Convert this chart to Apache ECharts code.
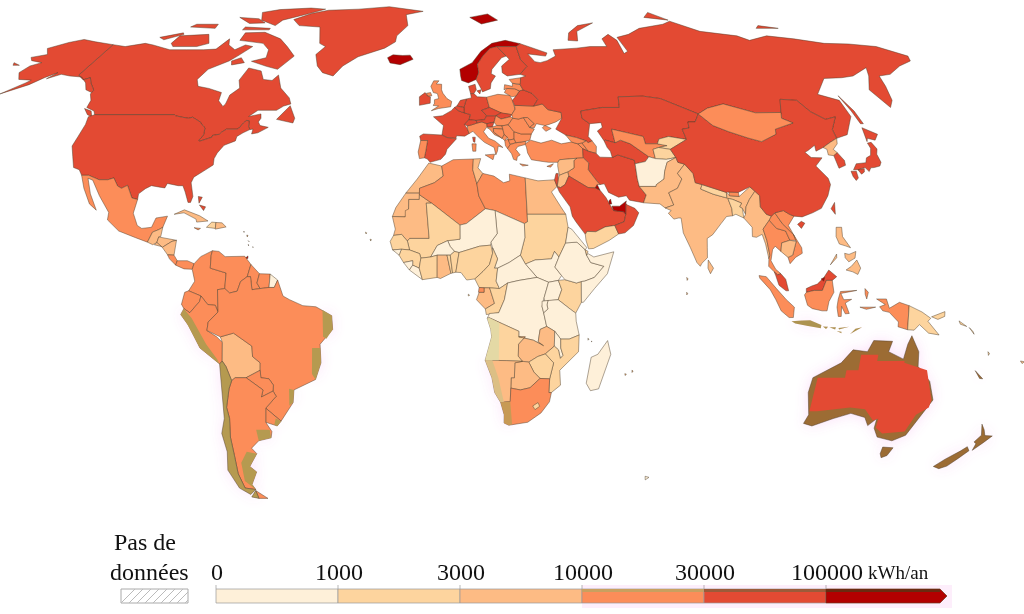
<!DOCTYPE html>
<html>
<head>
<meta charset="utf-8">
<title>Consommation d'énergie par habitant</title>
<script src="https://cdn.jsdelivr.net/npm/echarts@6/dist/echarts.min.js"></script>
<style>
html,body{margin:0;padding:0;background:#fff;}
#main{width:1024px;height:614px;}
</style>
</head>
<body>
<div id="main"></div>
<script>
'use strict'
// legende
var tickLabels = ['0', '1000', '3000', '10000', '30000', '100000'];
var tickValues = [0, 1000, 3000, 10000, 30000, 100000];
var bandColors = ['#fef0d9', '#fdd49e', '#fdbb84', '#fc8d59', '#e34a33', '#b30000'];

var ameriques = {'Canada':95000,'Etats-Unis':75000,'Alaska':75000,'Groenland':40000,'Mexique':17000,'Guatemala':5000,'Honduras':6000,'Salvador':7000,'Nicaragua':4500,'Costa Rica':11000,'Panama':14000,'Cuba':8000,'Haiti':2500,'Rep. dominicaine':8000,'Jamaique':11000,'Bahamas':35000,'Trinite':150000,'Antilles':6000,'Colombie':11000,'Venezuela':15000,'Guyana':12000,'Suriname':15000,'Guyane':800,'Equateur':12000,'Perou':10500,'Bolivie':8000,'Bresil':15000,'Paraguay':10500,'Uruguay':15000,'Argentine':20000,'Chili':19000};
var europe = {'Islande':180000,'Norvege':110000,'Suede':60000,'Finlande':65000,'Danemark':33000,'Royaume-Uni':28000,'Irlande':35000,'France':40000,'Espagne':32000,'Portugal':24000,'Italie':28000,'Allemagne':42000,'Pays-Bas':55000,'Belgique':65000,'Suisse':31000,'Autriche':44000,'Pologne':29000,'Tchequie':45000,'Slovaquie':35000,'Hongrie':29000,'Slovenie':34000,'Croatie':24000,'Bosnie':20000,'Serbie':20000,'Montenegro':16000,'Albanie':11000,'Macedoine':14000,'Grece':28000,'Bulgarie':27000,'Roumanie':21000,'Moldavie':11000,'Ukraine':25000,'Bielorussie':31000,'Lituanie':27000,'Lettonie':27000,'Estonie':26000,'Chypre':24000,'Russie':60000};
var afrique = {'Maroc':7000,'Sahara occidental':4000,'Mauritanie':5000,'Algerie':14000,'Tunisie':9500,'Libye':22000,'Egypte':9000,'Soudan':2000,'Soudan du Sud':700,'Tchad':300,'Niger':400,'Mali':1200,'Burkina':600,'Senegal':2000,'Guinee':1300,'Guinee-Bissau':700,'Sierra Leone':600,'Liberia':500,'Cote d\'Ivoire':1800,'Ghana':3500,'Togo':1500,'Benin':1500,'Nigeria':1100,'Cameroun':1400,'Centrafrique':400,'Gabon':6000,'Guinee equatoriale':17000,'Congo':1500,'RD Congo':800,'Ouganda':600,'Kenya':1700,'Tanzanie':700,'Rwanda':900,'Ethiopie':800,'Erythree':800,'Djibouti':1400,'Somalie':500,'Angola':1500,'Zambie':3500,'Malawi':300,'Mozambique':1900,'Zimbabwe':2500,'Botswana':7000,'Namibie':6500,'Afrique du Sud':25000,'Lesotho':1200,'Madagascar':800,'Cap-Vert':1500,'Sao Tome':1500,'Comores':800,'Maurice':9000,'Kerguelen':800};
var asie = {'Turquie':20000,'Georgie':13000,'Armenie':14000,'Azerbaidjan':17000,'Iran':35000,'Irak':14000,'Syrie':5000,'Jordanie':7500,'Israel':32000,'Arabie saoudite':85000,'Yemen':2200,'Oman':75000,'Emirats':120000,'Qatar':170000,'Koweit':110000,'Kazakhstan':50000,'Turkmenistan':60000,'Ouzbekistan':17000,'Kirghizistan':2500,'Tadjikistan':2400,'Afghanistan':800,'Pakistan':5000,'Inde':7000,'Sri Lanka':5500,'Bangladesh':2600,'Nepal':2800,'Bhoutan':10500,'Birmanie':3300,'Thailande':15000,'Laos':12000,'Vietnam':11000,'Cambodge':5500,'Malaisie':40000,'Brunei':110000,'Indonesie':11000,'Philippines':5000,'Chine':33000,'Taiwan':55000,'Mongolie':18000,'Coree du Nord':5000,'Coree du Sud':65000,'Japon':39000,'Papouasie':2000,'Maldives':5000};
var oceanie = {'Australie':65000,'Australie centre':65000,'Tasmanie':65000,'Nouvelle-Zelande':45000,'Nouvelle-Caledonie':30000,'Salomon':2000,'Vanuatu':2500,'Fidji':5000};

// couleurs des zones ou le fond d'origine a bave
var tintNames = ['Australie','Nouvelle-Zelande','Chili','Java','Petites Sonde','Nouvelle-Caledonie','Tasmanie','Nord-est Bresil','Sud-est Bresil','Sud Bresil','Cote Perou','Pampa','Patagonie','Ouest Namibie','Ouest Angola','Cap','Uruguay sud'];
var tintColors = ['#9c6c34','#9c6c34','#b59a50','#ad9350','#ad9350','#9c6c34','#9c6c34','#b59a50','#b59a50','#b59a50','#b59a50','#b59a50','#b59a50','#dcbf85','#e4d9a5','#c79a55','#b59a50'];

// contours en lon,lat
var outlines = {
'Canada':['-141,69.6 -135,69 -128,70 -124,69.5 -115,68 -108,68 -101,68 -96,68.2 -94,71.5 -92,69.5 -88,68 -85,69.5 -81.5,69 -85,66 -87,64.5 -93,62 -94.5,59 -92.5,57 -88,56.4 -82.5,55.2 -82,52.9 -79.5,51.3 -79,52 -79,54.5 -76.7,56.5 -78.5,58.8 -77.5,62.4 -72,61.5 -69.5,59 -66,58.7 -64.5,60.3 -61.5,56.5 -57,53.7 -55.7,52 -58,51.4 -60,50.2 -66.5,50.2 -69,48.5 -65,49.2 -64.5,48 -65,47 -64,46 -61,45.5 -64,44 -66,43.7 -66,45 -67,44.9 -67.8,45.7 -68.3,47.3 -69.2,47.4 -70,46.7 -70.8,45.4 -71.5,45 -75,45 -76.3,44.2 -76.8,43.6 -79,43.3 -79,42.8 -82.7,41.7 -83.1,42 -82.5,42.6 -82.1,43.6 -82.5,45.3 -83.5,46 -84.5,46.5 -84.8,46.9 -88.4,48.3 -89.6,48 -92,48.3 -94.6,48.7 -95.2,49 -123,49 -124,50 -127.5,51 -128,53 -130,54.8 -130,55.9 -133.5,58 -135.5,59.5 -137.5,58.9 -141,60.3','-62,66 -66,62 -71,62.9 -78,64.4 -73,65.5 -74,68 -78,70 -89,71 -89.5,73.5 -81,73.7 -72,71.5 -67,69 -62,66','-105,69 -115,69 -117,70 -117,72.5 -105,73 -101,70','-117,73.5 -125,72 -122,71.2 -116,73','-62,82.5 -70,83 -85,82.3 -92,81 -88,78 -79,76 -78,78 -68,80.5','-80,75 -92,75.5 -92,74.5 -80,74.5','-117,75.5 -105,75 -106,76.5 -116,76.5','-100,79 -92,76.8 -85,77 -90,78.5','-59,47.7 -53,46.7 -52.8,48 -55.7,51.5','-128,50.7 -125,50 -123.5,48.4 -125.5,49','-85,63.3 -80.5,64 -83,65.5 -86,64.5'],
'Etats-Unis':['-124.7,48.4 -123,49 -95.2,49 -94.6,48.7 -92,48.3 -89.6,48 -88.4,48.3 -84.8,46.9 -84.5,46.5 -83.5,46 -82.5,45.3 -82.1,43.6 -82.5,42.6 -83.1,42 -82.7,41.7 -79,42.8 -79,43.3 -76.8,43.6 -76.3,44.2 -75,45 -71.5,45 -70.8,45.4 -70,46.7 -69.2,47.4 -68.3,47.3 -67.8,45.7 -67,44.9 -69,44 -70.7,43 -70.7,41.8 -74,40.6 -75.5,38.5 -76,37 -75.7,35.3 -77.9,33.9 -81,32 -81.4,30.5 -80,26.8 -80.4,25.2 -81.2,25.2 -82.7,28 -83.8,29.7 -85.3,29.7 -88.9,30.3 -89.4,29.1 -91,29.3 -93.8,29.7 -95.5,28.9 -97.3,27.5 -97.2,26 -99.1,26.4 -101.4,29.8 -103.1,29 -104.5,29.6 -106.5,31.8 -108.2,31.3 -111,31.3 -114.8,32.5 -117.1,32.5 -118.5,34 -120.6,34.6 -122.4,37.5 -124.3,40.4 -124.1,43 -124,46.3'],
'Alaska':['-141,69.6 -141,60.3 -137.5,58.9 -135.5,59.5 -133.5,58 -130,55.9 -130,55.2 -133,56 -135.5,58 -139,59.7 -144,60 -148,60.5 -151.8,59.2 -150,61 -153,59.5 -156,57.5 -163,54.8 -158,58 -157,58.8 -162,59 -165,61 -164,63 -161,64 -166,64.6 -168,65.6 -163,66.5 -166.5,68.4 -161,70.3 -156.5,71.3 -150,70.5','-172,64 -168.5,63.2 -171,63.2','-169,52.8 -166,53.8 -167,53.4'],
'Groenland':['-73,78.2 -68,76 -58,75.5 -54,70 -51,69 -53.5,66.5 -51,63 -48,61 -43.5,60 -41,63 -36,65.8 -26,68.5 -22,70.5 -22,72.5 -18,76 -20,80 -12,81.5 -30,83.6 -45,82.5 -60,82 -67,80.5'],
'Mexique':['-117.1,32.5 -114.8,32.5 -111,31.3 -108.2,31.3 -106.5,31.8 -104.5,29.6 -103.1,29 -101.4,29.8 -99.1,26.4 -97.2,26 -97.8,22.3 -96,19 -94.5,18.2 -91.5,18.5 -90.5,21 -87,21.5 -88,18.5 -89.1,17.9 -91,17.2 -92.2,14.5 -96,15.7 -101.5,17.5 -105.5,20.5 -105.5,22.5 -109.5,27 -113,31.2 -114.7,31.7 -112.5,27.5 -109.5,23.1 -112,24.8 -115,29'],
'Guatemala':['-92.2,14.5 -91,17.2 -89.1,17.9 -88,18.5 -88.3,16 -88.9,15.9 -89.3,14.4 -90.5,13.8'],
'Honduras':['-89.3,14.4 -88.9,15.9 -83.3,15 -84.7,14.7 -87.5,13.1'],
'Salvador':['-90,13.8 -89.3,14.4 -87.7,13.3'],
'Nicaragua':['-87.5,13.1 -84.7,14.7 -83.3,15 -83.7,11 -85.7,11.1'],
'Costa Rica':['-85.7,11.1 -83.7,11 -82.6,9.5 -83,8.3 -85,10'],
'Panama':['-83,8.3 -82.6,9.5 -79.5,9.5 -77.4,8.7 -77.9,7.2 -80.4,7.3'],
'Cuba':['-85,22 -82,23.2 -77,21.6 -74.2,20.2 -77.7,19.9 -78,20.7 -82,22.4'],
'Haiti':['-74.5,18.5 -73,19.9 -71.7,19.8 -71.7,18.2'],
'Rep. dominicaine':['-71.7,19.8 -69.8,19.7 -68.4,18.6 -71.7,18'],
'Jamaique':['-78.3,18.4 -76.3,18.2 -77,17.8'],
'Bahamas':['-78.3,26.8 -77,26.6 -77.7,25','-77.5,24.5 -75.5,24 -76,23'],
'Trinite':['-61.9,10.1 -61,10.8 -61,10.1'],
'Antilles':['-62.8,17.5 -62.5,17.3 -62.7,17.1','-61.8,16.4 -61.4,16.3 -61.6,15.9','-61.2,14.9 -60.9,14.6 -61.1,14.4','-61.1,13.9 -60.9,13.7 -61,13.5','-59.7,13.3 -59.4,13.2 -59.6,13'],
'Colombie':['-77.4,8.7 -75.5,10.6 -72,12.2 -72.3,11 -72.4,7.5 -67.5,6.2 -67.8,2 -70,1.7 -69.9,-4.3 -70.7,-2.5 -73,-2.3 -75,0 -78.8,1.4 -77,4 -77.9,7.2'],
'Venezuela':['-72,12.2 -70,12 -68,10.6 -62,10.7 -60,8.5 -61,5.2 -63,3.9 -64,1.3 -66.3,0.8 -67.8,2 -67.5,6.2 -72.4,7.5 -72.3,11'],
'Guyana':['-60,8.5 -57.3,6 -58,3.5 -57,2 -59.5,1.7 -60,5.2 -61,5.2'],
'Suriname':['-57.3,6 -54,5.9 -54.3,2.3 -57,2 -58,3.5'],
'Guyane':['-54,5.9 -51.7,4.3 -52.7,2.3 -54.3,2.3'],
'Equateur':['-80,1 -78.8,1.4 -75,0 -75.5,-1.5 -78.5,-4.5 -80.3,-3.4 -81,-2.2'],
'Perou':['-80.3,-3.4 -78.5,-4.5 -75.5,-1.5 -75,0 -73,-2.3 -70.7,-2.5 -69.9,-4.3 -73,-7 -73.5,-9.3 -70.6,-11 -69,-12.5 -69.5,-17.5 -70.4,-18.3 -76,-14 -79,-8 -81.3,-5'],
'Bolivie':['-69.5,-11 -65.4,-10 -60,-13.5 -60,-16.3 -57.8,-18 -58,-20 -62.6,-22 -66,-22 -67.2,-22.8 -68.5,-19 -69.5,-17.5 -69,-12.5'],
'Bresil':['-60,5.2 -59.5,1.7 -57,2 -54.3,2.3 -52.7,2.3 -51.7,4.3 -50,0 -48,-1 -44,-2.6 -40,-2.9 -35.2,-5.3 -35,-9 -39,-13 -39,-18 -41,-22.5 -48,-25.3 -48.7,-28.7 -53.4,-33.7 -57.6,-30.2 -53.8,-27 -54.6,-25.6 -54.3,-24 -55.5,-22.3 -58,-22 -58,-20 -57.8,-18 -60,-16.3 -60,-13.5 -65.4,-10 -69.5,-11 -73.5,-9.3 -73,-7 -69.9,-4.3 -70,1.7 -67.8,2 -66.3,0.8 -64,1.3 -63,3.9 -61,5.2'],
'Paraguay':['-58,-20 -58,-22 -55.5,-22.3 -54.3,-24 -54.6,-25.6 -58.5,-27.2 -57.7,-25.3 -62.6,-22'],
'Uruguay':['-57.6,-30.2 -53.4,-33.7 -54.9,-35 -58.4,-34'],
'Argentine':['-66,-22 -62.6,-22 -57.7,-25.3 -58.5,-27.2 -54.6,-25.6 -53.8,-27 -57.6,-30.2 -58.4,-34 -57,-36.5 -57.7,-38.2 -62,-39 -65,-41 -63.8,-42.5 -67.5,-46 -65.8,-47.5 -69,-51 -68.4,-52.4 -72,-52 -72.4,-48 -71.5,-43 -71,-38 -69.8,-33 -70,-30 -68.3,-25 -67.2,-22.8','-68.6,-52.7 -65.3,-54.9 -68.6,-54.9'],
'Chili':['-69.5,-17.5 -68.5,-19 -67.2,-22.8 -68.3,-25 -70,-30 -69.8,-33 -71,-38 -71.5,-43 -72.4,-48 -72,-52 -68.4,-52.4 -71,-53.8 -74,-52 -75.5,-47 -73.5,-42 -73.5,-37 -71.5,-33 -70.4,-18.3','-68.6,-52.7 -68.6,-54.9 -71,-54.5'],
'Islande':['-24,65.5 -22,66.4 -18,66.2 -15,66.3 -13.6,65 -18.5,63.4 -22.6,63.9'],
'Norvege':['5.2,60 5,62 10,64 14,67.5 19,70 25,71 31,69.9 29,69 25.7,69 21,69 18,68.5 14.5,66 12,63.5 12.2,61 11,59 8,58 5.5,58.7','11,79 16,76.6 24,78 20,80.3'],
'Suede':['11,59 12.2,61 12,63.5 14.5,66 18,68.5 21,69 24,66 22,65.5 17.5,62 17,60.7 18.5,60 16.5,58 16,56.3 13,55.4 12.5,56.5'],
'Finlande':['21,69 25.7,69 29,69 29.5,64.9 31.5,62.9 28,60.5 23,60 21.3,61 21.5,63 25,65 24,66'],
'Danemark':['8,57 10.5,57.6 10.8,56 9.8,54.9 8.6,54.9','11,55.7 12.5,56 12,54.8'],
'Royaume-Uni':['-5.5,50.1 -3,50.7 1.3,51.2 1.7,52.7 0,53.5 -1.5,55 -2,56 -2,57.6 -4,57.7 -3,58.6 -5,58.6 -6,57 -5,55.2 -3.5,54.9 -3,53.5 -4.5,53.2 -4.5,52 -5,51.6 -3,51.4','-7.5,55 -6,55.2 -5.5,54.3 -7,54.2'],
'Irlande':['-10,54 -8,55.2 -7,54.2 -6,54 -6,52.2 -9.8,51.6'],
'France':['-1.7,43.4 -1.2,46 -4.7,48.4 -1.6,48.7 1.5,50.1 2.6,51 4.2,50 8.2,49 7.6,47.6 6,46.3 7,45 7.5,43.8 6,43.1 3.2,43.2 3,42.5 0,42.7','8.6,42.8 9.5,42.8 9.3,41.4 8.8,41.6'],
'Espagne':['-9.2,43.1 -8,43.7 -1.7,43.4 0,42.7 3.2,42.4 0,39.5 -0.5,38.2 -2,36.8 -5.5,36 -6.4,36.9 -7.4,37.2 -7,39 -6.5,41.9 -8.8,41.9'],
'Portugal':['-8.8,41.9 -6.5,41.9 -7,39 -7.4,37.2 -9,37 -9.5,38.8'],
'Italie':['7,45 7.5,43.8 8.8,44.4 10.5,42.9 12.5,41.4 15.6,40 16,38 16.6,39 17,40.4 18.5,40 16,41.8 14,42.5 12.4,44.3 13.7,45.7 13.7,46.5 12,47 10.4,46.7 8.5,46.2 7,45.9','12.5,38 15.6,38.2 15,36.7','8.3,41 9.7,41 9.5,39 8.5,39'],
'Allemagne':['6,51 6,49.5 8.2,49 7.6,47.6 10,47.4 13,47.6 13.8,48.7 12.2,50.2 15,51 14.3,53.9 11,54 9.8,54.9 8.6,54.9 8.8,53.7 7,53.4'],
'Pays-Bas':['3.5,51.4 4.8,53 7,53.4 6,51'],
'Belgique':['2.6,51 3.5,51.4 6,51 6,49.5 4.2,50'],
'Suisse':['6,46.3 7.6,47.6 10,47.4 10.4,46.7 8.5,46.2 7,45.9'],
'Autriche':['10,47.4 13,47.6 13.8,48.7 17,48.7 16.2,46.9 13.7,46.5 12,47 10.4,46.7'],
'Pologne':['14.3,53.9 18.5,54.7 22.8,54.4 23.5,53 24,50.5 22.6,49 19,49.4 15,51'],
'Tchequie':['12.2,50.2 15,51 19,49.5 17,48.7 13.8,48.7'],
'Slovaquie':['17,48.7 19,49.5 22.6,49 22,48.4 18.7,47.8'],
'Hongrie':['16.2,46.9 17,48.7 18.7,47.8 22,48.4 22.8,48 21,46.2 18.8,45.9 17,46'],
'Slovenie':['13.7,45.6 13.7,46.5 16.2,46.9 15.5,45.6'],
'Croatie':['13.7,45.4 15.5,45.6 17,46 18.8,45.9 19,45 15.8,45.2 15.8,44.2 18.5,42.5 16,43.5 14.5,45'],
'Bosnie':['15.8,45.2 19,45 19.3,43.5 18.5,42.5 15.8,44.2'],
'Serbie':['18.8,45.9 21,46.2 22.7,44.3 22.5,42.3 20.5,42 20.3,42.8 19.3,43.5 19,45'],
'Montenegro':['18.5,42.5 19.3,43.5 20.3,42.8 19.3,41.9'],
'Albanie':['19.3,41.9 20.5,42.3 21,40.7 20,39.7 19.4,40.5'],
'Macedoine':['20.5,42 22.5,42.3 23,41.3 21,40.9'],
'Grece':['20,39.7 21,40.8 23,41.3 26.3,41.7 26,40.8 23.5,40.3 22.7,39.5 24,38 23,37.5 22.7,36.5 21.7,36.8 21.2,38.3','23.6,35.6 26.3,35.2 24.5,35'],
'Bulgarie':['22.5,42.3 22.7,44.3 25,43.7 28.5,43.7 27.7,42 26.3,41.7 23,41.3'],
'Roumanie':['21,46.2 22.8,48 24.8,47.8 26.5,48.2 28.2,45.5 29.7,45 28.5,43.7 25,43.7 22.7,44.3'],
'Moldavie':['26.5,48.2 28,48.2 30,46.5 28.2,45.5'],
'Ukraine':['22.8,48 22.6,49 24,50.5 24,51.6 30.8,51.4 34,52 35.5,50.4 40,49.6 39.8,48 37.5,47 35,46.3 33.6,46 35.5,45.2 33.5,44.4 32.5,45.4 33.5,46 30.7,46.5 29.7,45.3 28.2,45.5 30,46.5 28,48.2 26.5,48.2 24.8,47.8'],
'Bielorussie':['24,51.6 30.8,51.4 32.7,53.3 31,55 28,56 26.6,55.7 25,54.2 23.5,53'],
'Lituanie':['21,55.2 22,56.4 25,56.3 26.6,55.7 25,54.2 23.5,54'],
'Lettonie':['21,56 21.5,57.5 24.3,57 24.5,57.9 27.3,57.5 28,56 26.6,55.7 25,56.3 22,56.4'],
'Estonie':['23.5,59 28,59.5 27.5,57.6 24.5,57.9 24,58.4'],
'Chypre':['32.3,34.9 34.5,35.6 33.5,34.7'],
'Russie':['31,69.9 41,67 40,66 33,66.7 35,64.3 37,64 40,64.6 44,66 44,68 54,68.5 60,69 67,69 67,71.5 71,73 73,71 72.5,66.8 74.5,67.5 74,72 80,73 87,75 100,76.5 105,77.6 113,74 127,72.5 130,71 140,72.5 150,71.5 160,70 170,69.8 180,69 187,66 185,64.5 178,63 170,60.5 165,60 163,57 160,53 157,51 155.5,56 161,60 164,62.5 155,60 150,59.5 143,59.3 135,54.7 141,53 140.5,48.5 135,43.5 130.7,42.5 131,44.9 135,48.4 131,47.7 127.5,49.8 125.7,53 120,53.3 117,49.6 108,49.5 98.5,52 92,50.8 87.8,49.2 83.3,51 77,53.5 71,54.2 62,54 61,51 55,51 47,50 46.8,48 49,46.5 47.5,43 48.5,41.8 47,41.3 46.5,41.8 43.5,42.7 40,43.4 37,45 39,47.2 39.8,48 40,49.6 35.5,50.4 34,52 30.8,51.4 32.7,53.3 31,55 28,56 27.3,57.5 28,59.5 30,60 28,60.5 31.5,62.9 29.5,64.9 29,69','142,54.3 143,50 143,46.5 142,46.5 142,50','52,71 56,70.8 58,74 68,77 60,76 54,73.5','95,79 105,78 100,81','140,75 150,75 143,76'],
'Maroc':['-1.7,35 -5.9,35.8 -9.5,31.5 -13,27.7 -8.7,27.7 -8.7,29 -4,30.5 -1.2,32.3'],
'Sahara occidental':['-13,27.7 -8.7,27.7 -8.7,26 -12,26 -12,23.4 -13,21.3 -17,21.4 -16,23.8'],
'Mauritanie':['-17,21.4 -13,21.3 -13,23 -12,23.4 -12,26 -8.7,26 -8.7,27.3 -4.8,25 -6.5,25 -5.5,15.5 -11.5,15.5 -12.2,14.8 -14,16.6 -16.5,16.3 -16,18'],
'Algerie':['-1.7,35 2,36.7 8.6,36.9 8.3,34 9.5,30.2 10,27 12,23.5 6,19.5 4,19.1 -4.8,25 -8.7,27.3 -8.7,29 -4,30.5 -1.2,32.3'],
'Tunisie':['8.6,36.9 11,37 10,34.5 11.5,33 9.5,30.2 8.3,34'],
'Libye':['11.5,33 15,32.3 18,30.5 20,31 20,32.8 25,31.8 25,20 24,19.5 15,23 12,23.5 10,27 9.5,30.2'],
'Egypte':['25,31.8 29,31 32.5,31.2 34.3,31.3 34.9,29.5 33,28 35.6,24 37,22 25,22'],
'Soudan':['25,20 25,22 37,22 37.5,18.5 36.5,14.3 34.3,10.5 33,12 32,10 27,9.7 24,8.6 22.5,11 24,15.7 24,19.5'],
'Soudan du Sud':['24,8.6 27.5,5 31,3.7 34,4.2 35,5.5 33,7.8 34.3,10.5 33,12 32,10 27,9.7'],
'Tchad':['15,23 24,19.5 24,15.7 22.5,11 19,9 15.5,7.5 14.5,7.5 15.5,10 14,13 13.5,14.5 15.5,16.8'],
'Niger':['12,23.5 15,23 15.5,16.8 13.5,14.5 13.5,13.7 10,13.4 3.7,11.7 2.3,12 1,13.3 0.2,14.9 4,15.3 4,19.1 6,19.5'],
'Mali':['-4.8,25 4,19.1 4,15.3 0.2,14.9 -3,13.6 -5,10.5 -8,10.2 -8.4,11.4 -11.5,12.4 -12.2,14.8 -11.5,15.5 -5.5,15.5 -6.5,25'],
'Burkina':['-5,10.5 -3,13.6 0.2,14.9 1,13.3 2.3,12 1,11 0,11 -3,11'],
'Senegal':['-16.5,16.3 -14,16.6 -12.2,14.8 -11.5,12.4 -14,12.6 -16.7,12.4 -17.5,14.7'],
'Guinee':['-14.7,11 -13.3,9 -10.5,9.5 -10.5,8.3 -8.5,7.5 -8,10.2 -8.4,11.4 -11.5,12.4 -14,12.6'],
'Guinee-Bissau':['-16.7,12.4 -14,12.6 -14.7,11'],
'Sierra Leone':['-13.3,9 -10.5,9.5 -10.5,8.3 -11.5,7'],
'Liberia':['-11.5,7 -10.5,8.3 -8.5,7.5 -7.5,4.4'],
'Cote d\'Ivoire':['-8.5,7.5 -8,10.2 -5,10.5 -3,11 -3,5 -7.5,4.4'],
'Ghana':['-3,11 0,11 1.2,6.1 -2,4.7 -3,5'],
'Togo':['0,11 1,11 1.7,6.2 1.2,6.1'],
'Benin':['1,11 2.3,12 3.7,11.7 2.7,6.4 1.7,6.2'],
'Nigeria':['2.7,6.4 3.7,11.7 10,13.4 13.5,13.7 14,11.5 13,8.5 11,6.6 8.5,4.6 6,4.3 4.3,6.3'],
'Cameroun':['8.5,4.6 11,6.6 13,8.5 14,11.5 14,13 15.5,10 14.5,7.5 15.5,7.5 15,4 16,2 13,2.2 9.8,2.3'],
'Centrafrique':['15.5,7.5 19,9 22.5,11 24,8.6 27.5,5 22,4.2 18.5,3.5 16,2 15,4'],
'Gabon':['9.8,1 11.3,1 11.3,2.2 13,2.2 14.5,-2 11.7,-3.5 9,-1'],
'Guinee equatoriale':['9.8,2.3 11.3,2.2 11.3,1 9.6,1'],
'Congo':['13,2.2 16,2 18.5,3.5 17.5,-1 15.8,-4.5 12,-5 11.7,-3.5 14.5,-2'],
'RD Congo':['18.5,3.5 22,4.2 27.5,5 31,3.7 29.6,-0.5 29,-2.8 29.5,-4.5 30.5,-8.2 28.5,-9 28,-12.3 29.7,-13.4 26.5,-11.9 22,-11 22,-9.5 17,-7.5 13,-5.9 12.3,-6 13,-4.7 15.8,-4.5 17.5,-1'],
'Ouganda':['31,3.7 34,4.2 35,1.7 33.9,-1 29.8,-1.4 29.6,-0.5'],
'Kenya':['34,4.2 36,4.4 39.5,3.5 41,3.9 41,-1.7 39.3,-4.6 37.7,-3.6 33.9,-1 35,1.7'],
'Tanzanie':['30.8,-1.2 33.9,-1 37.7,-3.6 39.3,-4.6 39.5,-6.8 40.5,-10.5 37.5,-11.6 34.9,-11.6 33,-9.5 30.5,-8.2 29.5,-4.5 30.8,-3.5 30.5,-2.4'],
'Rwanda':['29,-1.4 30.8,-1.2 30.5,-2.4 30.8,-3.5 29.5,-4.5 29,-2.8'],
'Ethiopie':['36.5,14.3 40,14.5 42.4,12.5 42.8,11 44,9 48,8 45,5 42,4 41,3.9 39.5,3.5 36,4.4 35,5.5 33,7.8 34.3,10.5'],
'Erythree':['37.5,18.5 38.6,18 43,13 42.4,12.5 40,14.5 36.5,14.3'],
'Djibouti':['42.4,12.5 43.3,12 42.8,11'],
'Somalie':['42.8,11 43.3,11.4 45,10.5 51.2,11.9 49,6 45,2 41.6,-1.7 41,-1.7 41,3.9 42,4 45,5 48,8 44,9'],
'Angola':['12.3,-6 13,-5.9 17,-7.5 22,-9.5 22,-11 24,-11 22,-13 22,-16.2 23.4,-17.6 18.5,-17.4 11.8,-17.3 13.7,-11 13.4,-9'],
'Zambie':['22,-11 26.5,-11.9 29.7,-13.4 28,-12.3 28.5,-9 30.5,-8.2 33,-9.5 33,-13.5 30.3,-15.6 28,-16.3 25.3,-17.8 23.4,-17.6 22,-16.2 22,-13 24,-11'],
'Malawi':['33,-9.5 34.9,-11.6 35,-14 35.8,-16 35,-16.8 34.3,-14.5 33,-13.5'],
'Mozambique':['34.9,-11.6 37.5,-11.6 40.5,-10.5 40.5,-15 35,-20 35.5,-24 32.8,-26 32,-26 32,-22.3 33,-18 30.3,-15.6 33,-13.5 34.3,-14.5 35,-16.8 35.8,-16 35,-14'],
'Zimbabwe':['25.3,-17.8 28,-16.3 30.3,-15.6 33,-18 32,-22.3 29,-22.2 27,-20.5'],
'Botswana':['20,-18 23.4,-17.6 25.3,-17.8 27,-20.5 29,-22.2 26,-24.7 23,-25.3 20,-24.8 20,-22 21,-22 21,-18'],
'Namibie':['11.8,-17.3 18.5,-17.4 23.4,-17.6 21,-18 21,-22 20,-22 20,-28.4 17,-28.7 15,-26 14,-22'],
'Afrique du Sud':['17,-28.7 20,-28.4 20,-24.8 23,-25.3 26,-24.7 29,-22.2 32,-22.3 32,-26 32.8,-26 32.4,-28.5 30,-31.5 26,-34 20,-34.8 18.4,-34.2 18.3,-32'],
'Lesotho':['27.2,-29.6 28.8,-28.7 29.4,-29.7 28,-30.6'],
'Madagascar':['49.3,-12 50.5,-15.7 47.5,-25 45,-25.5 43.5,-23.5 44.5,-16.5 46.5,-15.7'],
'Cap-Vert':['-25.2,17.2 -24.8,17 -25,16.7','-23.7,15.3 -23.3,15.2 -23.5,14.8'],
'Sao Tome':['6.5,0.5 6.9,0.2 6.5,0'],
'Comores':['43.2,-11.4 43.6,-11.6 43.3,-11.9','44.4,-12.1 44.7,-12.3 44.4,-12.4'],
'Maurice':['57.4,-20 57.8,-20.2 57.5,-20.6','55.3,-20.9 55.8,-21.1 55.4,-21.4'],
'Kerguelen':['69,-48.7 70.5,-49 69.5,-49.7'],
'Turquie':['26.3,40 26,41 28,42 31.3,41.2 35,42 38,41 41.5,41.5 43.5,41 44.8,39.7 44.5,37.2 42.4,37.1 36.7,36.7 36,36 33,36 30.5,36.3 27.5,36.7 26.5,38.5'],
'Georgie':['40,43.4 43.5,42.7 46.5,41.8 45,41.2 43.5,41 41.5,41.5'],
'Armenie':['43.5,41 45,41.2 46.5,39 44.8,39.7'],
'Azerbaidjan':['45,41.2 46.5,41.8 47,41.3 48.5,41.8 49.5,40.3 49,38.4 46.5,39'],
'Iran':['44.8,39.7 46.5,39 49,38.4 50,37.4 54,37.3 56,38 61,36.6 61,35.6 60.8,31.5 61,29.5 62.8,27.2 61.6,25.1 57.3,25.8 56.5,27 54,26.6 51,27.9 50,30.2 48.6,30 47.7,31 45.5,34 46,35.8 44.5,37.2'],
'Irak':['42.4,37.1 44.5,37.2 46,35.8 45.5,34 47.7,31 48.6,30 47.7,30 47,29.1 44.7,29.2 39,32.3 38.8,33.4 41,34.5 41.3,36.5'],
'Syrie':['36,36 36.7,36.7 42.4,37.1 41.3,36.5 41,34.5 38.8,33.4 36,32.5 35.8,35'],
'Jordanie':['35,29.5 36,29.2 37.5,30 39,32.3 38.8,33.4 36,32.5 35.5,31.5'],
'Israel':['34.3,31.3 34.9,29.5 35.5,31.5 35.7,33 35,33'],
'Arabie saoudite':['34.9,29.4 36,29.2 37.5,30 39,32.3 44.7,29.2 47,29.1 48.4,28.5 50,26.5 51,24.6 52,23 55.1,22.7 55.7,22 55,20 52,19 49,18.6 46,17.3 43.3,17.4 42.7,16.6 40,20 39,21.5 38.5,24 35.5,28'],
'Yemen':['43.3,17.4 46,17.3 49,18.6 52,19 53,16.7 50,15 45,12.8 43.5,12.7 42.8,15 42.7,16.6'],
'Oman':['52,19 55,20 55.7,22 56,24.9 56.5,24.5 58.7,23.6 59.8,22.4 57.8,19 55,17 53,16.7'],
'Emirats':['51.6,24.2 52,23 55.1,22.7 55.7,22 56,24.9 56.3,25.6 54,24.2'],
'Qatar':['50.8,24.7 51.6,24.8 51.4,26.1 50.8,25.6'],
'Koweit':['47.7,30 48.4,28.5 47,29.1'],
'Kazakhstan':['46.8,48 47,50 55,51 61,51 62,54 71,54.2 77,53.5 83.3,51 87.8,49.2 85.5,47 83,47 82.5,45.3 80,45 80.2,42.2 74.5,43 71,42.3 70,41 66,41 66,43 61,44 56,45 56,41.3 53,42 52.5,41.8 51,44.5 53,45.5 53,46.8 49,46.5'],
'Turkmenistan':['53,42 56,41.3 58,42 61,41 66,37.5 64.5,36.2 61,35.6 61,36.6 56,38 54,37.3 53.8,39 53,40 52.5,41.8'],
'Ouzbekistan':['56,45 61,44 66,43 66,41 70,41 73,40.5 70,40 68,39.5 68,37 66,37.5 61,41 58,42 56,41.3'],
'Kirghizistan':['70,41 71,42.3 74.5,43 80.2,42.2 73.7,39.5 70,40 73,40.5'],
'Tadjikistan':['68,39.5 70,40 73.7,39.5 74.8,37.3 71.5,36.8 68,37'],
'Afghanistan':['61,35.6 64.5,36.2 66,37.5 68,37 71.5,36.8 74.8,37.3 71.5,36 70,33.5 69.3,31.5 66.5,30 66.3,29.5 61,29.5 60.8,31.5'],
'Pakistan':['74.8,37.3 75,36 77,35.5 74,33 75,31.5 73,29 70,27.8 71,24.5 68.2,23.7 66.7,24.8 61.6,25.1 62.8,27.2 61,29.5 66.3,29.5 66.5,30 69.3,31.5 70,33.5 71.5,36'],
'Inde':['77,35.5 79,33 79,30.5 81,30 80.3,28.8 84,27.4 88,26.4 88.2,27.9 89,27 92,26.8 96,29.4 97.3,28.2 95,26 93.5,24 93,22 92.3,23.6 91.5,24 92.3,25 89.8,26 88.3,26.3 89,23.5 88.9,21.6 87,21.4 85,19.5 82,16.5 80.2,15.5 80,13 79.8,10.3 78,8.8 77.5,8 76.5,9 74.8,13 73,17 72.8,21 72,21 70.5,20.7 69,22.3 70,23 68.2,23.7 71,24.5 70,27.8 73,29 75,31.5 74,33'],
'Sri Lanka':['80,9.7 81.5,7.5 80.5,6 79.8,7.5'],
'Maldives':['73.2,5 73.6,4.6 73.3,4.2','73.1,1 73.4,0.6 73.1,0.3'],
'Bangladesh':['88.3,26.3 89.8,26 92.3,25 91.5,24 92.3,23.6 92.3,21 90,22 88.9,21.6 89,23.5'],
'Nepal':['80.3,28.8 81,30 88.2,27.9 88,26.4 84,27.4'],
'Bhoutan':['89,27 89,28 92,27.9 92,26.8'],
'Birmanie':['97.3,28.2 98.5,27 98,24 99.5,22 101,21.5 100.1,20.4 97.8,18 98.5,15 99,11 98.6,10 98,14 97.3,16.6 95.4,15.8 94.2,16 94.5,18.5 92.3,21 93,22 93.5,24 95,26'],
'Thailande':['100.1,20.4 102,18.2 104.7,17.5 105.6,15 103,14.3 102.5,12 100.9,13.4 100,12.5 99.2,9.5 100.5,7.2 102,6 101,5.7 100,6.5 98.4,8 98.6,10 99,11 98.5,15 97.8,18'],
'Laos':['100.1,20.4 101,21.5 102.2,22.4 104,19.5 107,16.5 107.5,15 105.6,15 104.7,17.5 102,18.2'],
'Vietnam':['102.2,22.4 105,23 106.7,22 108,21.5 105.8,19 107,16.5 109,13 109,11.5 106.8,10.4 105,8.7 104.5,10.4 106,11 107.5,14.7 107,16.5 104,19.5'],
'Cambodge':['102.5,12 103,14.3 105.6,15 107.5,14.7 106,11 104.5,10.4'],
'Malaisie':['100,6.5 101,5.7 102,6 103.4,4.5 104.2,1.4 103.4,1.4 101.3,2.9 100.4,5.5','109.6,2 111.3,2.7 113,3.2 115,4.9 116.7,7 119,5.2 117.6,4.2 115.8,4.2 114.5,1.5 112,1.5 109.6,1'],
'Brunei':['114.2,4.6 115.3,5 115,4'],
'Indonesie':['109,0.3 109.6,1 112,1.5 114.5,1.5 115.8,4.2 117.6,4.2 118,1 116.5,-1.5 116,-4 114.5,-4 111.5,-3.4 110,-2.5','95.3,5.5 97.5,5.2 100.5,2 103.5,-1 106,-3 105.8,-5.8 104.5,-5.8 102,-4 100.3,-1 98.6,1.7 95.5,4.8','119.5,-5.5 120.4,-5.5 120.4,-2.8 121.6,-4.8 122.8,-4.7 121.5,-1.9 123.4,-0.9 121,-1 120.1,0.7 125,1.5 120,1.2 119.3,-0.9 119,-3','131,-0.8 134,-0.8 135,-3.3 138,-1.7 141,-2.6 141,-9.1 138,-8.3 138,-7 135,-4.4 133,-4 132,-2.9 133.7,-2.3','127.5,2 128.5,1 128,-0.8 127.5,0.5','126,-3 130.8,-3 128,-3.6'],
'Philippines':['120.5,18.5 122.2,18.5 122,16 124,13 122.5,13.5 120.7,14 120,16','122,7 123.7,8 125.5,9.7 126.5,7.5 125.5,5.8 124,6.5','122,11.5 123.3,11.2 125.5,12 125,10.2 123,9.2 122,10.3','117.3,8.4 119.5,11.3 119.4,10.3'],
'Chine':['73.7,39.5 80.2,42.2 80,45 82.5,45.3 83,47 85.5,47 87.8,49.2 91,46 95.5,44.3 101,42.6 105,41.6 111,43.6 111.7,45 119,46.7 116,48 117,49.6 120,53.3 125.7,53 127.5,49.8 131,47.7 135,48.4 131,44.9 130.7,42.5 128,41.5 124.4,40 121.5,39 122,40.6 119,39.2 117.7,38.7 119,37.3 122.5,37.2 119.3,35 121.8,31.7 121.8,30 120,27 117,23.6 114,22.4 110.5,21.3 108,21.5 106.7,22 105,23 102.2,22.4 101,21.5 99.5,22 98,24 98.5,27 97.3,28.2 96,29.4 92,27.9 89,28 88.2,27.9 81,30 79,30.5 79,33 77,35.5 75,36 74.8,37.3','108.7,19.3 110,20.1 111,19.6 109.7,18.2'],
'Taiwan':['121.5,25.2 121,22 120,23.5'],
'Mongolie':['87.8,49.2 92,50.8 98.5,52 108,49.5 117,49.6 116,48 119,46.7 111.7,45 111,43.6 105,41.6 101,42.6 95.5,44.3 91,46'],
'Coree du Nord':['124.4,40 128,41.5 130.7,42.5 129.8,41 127.5,39.5 128.3,38.6 126.7,37.8 125,38 125.4,39.5'],
'Coree du Sud':['126.7,37.8 128.3,38.6 129.4,36.5 129,35.2 126.5,34.4 126.6,36.7'],
'Japon':['141.4,41.4 142,39.6 141,38.2 141,36 140,35 138,34.6 136.8,34.5 135.8,33.5 135,34.6 132.5,34 131,34 132.7,35.6 136,35.9 137,37.2 138.8,37.9 140,39.8 140,41.2','140.2,41.6 141.5,45.4 145.3,43.6 143.2,42 141,42.5','130,33.6 131.7,33.6 131.5,31.8 130.5,31.1 130,32.2','132.4,34 134.6,34.3 134.2,33.4 133,32.8'],
'Papouasie':['141,-2.6 145,-4.3 147.8,-6 147,-6.8 150.8,-10.5 147.5,-10 144.5,-7.7 143,-9.2 141,-9.1','148,-5.6 152,-4.2 152,-5.5 150,-6.3'],
'Nord-est Bresil':['-38,-3.8 -35.2,-5.3 -35,-9 -37,-11.5 -38,-11'],
'Sud-est Bresil':['-41.5,-14 -39,-14 -39,-18 -41,-22.5 -42,-21'],
'Sud Bresil':['-49.5,-25 -48,-25.3 -48.7,-28.7 -50,-29.5'],
'Cote Perou':['-79.5,-7.5 -81.3,-5 -80.3,-3.4 -78,-6 -74,-13 -71,-17 -70.4,-18.3 -76,-14'],
'Pampa':['-62,-36 -57.6,-36 -57.7,-38.2 -62,-39'],
'Patagonie':['-67,-42 -63.8,-42.5 -67.5,-46 -65.8,-47.5 -69,-51 -68.4,-52.4 -71,-50 -70,-45'],
'Uruguay sud':['-55,-33 -53.4,-33.7 -54.9,-35 -55.8,-34.7'],
'Ouest Namibie':['11.8,-17.3 14,-17.3 16,-22 18,-28.6 17,-28.7 15,-26 14,-22'],
'Ouest Angola':['12.3,-6 13,-5.9 16,-7.3 16,-17.3 11.8,-17.3 13.7,-11 13.4,-9'],
'Cap':['17,-28.7 20,-28.4 21,-34.5 20,-34.8 18.4,-34.2 18.3,-32'],
'Java':['105.3,-6.8 108.5,-6.6 111,-6.5 114.5,-7.8 114.4,-8.7 110,-8 106.5,-7.4'],
'Petites Sonde':['115,-8.2 116.6,-8.3 116,-8.9','117,-8.4 119,-8.4 118.8,-9','119.8,-8.6 123,-8.3 120,-9','119.3,-9.4 120.8,-10 120.8,-9.6','123.5,-10.2 127,-8.4 125,-8.8'],
'Australie':['114,-22 113.5,-26 115.7,-32 115,-34.3 118,-35 124,-33 129,-31.6 134,-32.7 136,-34.9 138,-33 138.5,-35.6 141,-38 146.5,-39 150,-37.5 153.5,-28 150.7,-23 146,-19 145.3,-15 142.5,-10.7 141.6,-13 141,-17 136,-15 136.8,-12.2 131,-12 129.5,-15 125,-14.5 122,-18'],
'Australie centre':['115.5,-22 124,-22 124,-20 127.7,-20 127.7,-15.8 133,-15.8 133,-17.5 141.5,-17.5 141.5,-18 149,-20 153,-28 153,-30 150,-32 149,-36.5 142,-37 139,-35.5 138.5,-33 137,-33.5 133,-30.5 128,-30 118,-31 115.5,-31'],
'Tasmanie':['144.7,-40.7 148.3,-40.9 148,-43 146.5,-43.6 145.3,-42.5'],
'Nouvelle-Zelande':['172.7,-34.5 174.5,-36 176,-37.6 178.5,-37.7 177,-39.5 175.3,-41.6 174.8,-39.8 173.8,-39.3 174.8,-37.5','172.7,-40.6 174.3,-41.7 172.7,-43.8 171,-45.9 169,-46.6 166.5,-46 168.5,-44 171.5,-41.8'],
'Nouvelle-Caledonie':['164,-20.1 167,-22.3 166,-22.2'],
'Salomon':['156.5,-6.7 159,-8.2 157,-7.6','159.8,-8.5 161.5,-10.3 161,-9.5'],
'Vanuatu':['166.6,-15 167.2,-15.5 167,-16'],
'Fidji':['177.3,-17.5 178.6,-17.7 178,-18.2']
};

// pays et zones par-dessus
var overlays = ['Nord-est Bresil','Sud-est Bresil','Sud Bresil','Cote Perou','Pampa','Patagonie','Uruguay sud','Ouest Namibie','Ouest Angola','Cap','Java','Petites Sonde'];
var halos = ['Australie','Tasmanie','Nouvelle-Zelande','Chili','Cote Perou','Nord-est Bresil','Sud-est Bresil','Sud Bresil','Pampa','Patagonie','Uruguay sud','Ouest Namibie','Cap','Java','Petites Sonde','Nouvelle-Caledonie'];

// table de la projection de Robinson, pas de 5 degres
var robX = [1,.9986,.9954,.99,.9822,.973,.96,.9427,.9216,.8962,.8679,.835,.7986,.7597,.7186,.6732,.6213,.5722,.5322];
var robY = [0,.062,.124,.186,.248,.31,.372,.434,.4958,.5571,.6176,.6769,.7346,.7903,.8435,.8936,.9394,.9761,1];
var X0 = 447, Y0 = 296, SX = 3.28, SY = 299.5;

function robinson(lon, lat){
	var a = Math.min(Math.abs(lat)/5, 17.999);
	var i = Math.floor(a), f = a-i;
	var rx = robX[i]+(robX[i+1]-robX[i])*f;
	var ry = robY[i]+(robY[i+1]-robY[i])*f;
	return [X0+SX*lon*rx, Y0-(lat<0?-1:1)*SY*ry];
}
function robinsonInv(p){
	var ry = Math.abs(Y0-p[1])/SY, i = 0;
	while(i<17 && robY[i+1]<ry) i++;
	var f = (ry-robY[i])/(robY[i+1]-robY[i]);
	var lat = (i+f)*5;
	var rx = robX[i]+(robX[i+1]-robX[i])*f;
	return [(p[0]-X0)/(SX*rx), p[1]>Y0?-lat:lat];
}

function bandColor(v){
	var c = bandColors[0];
	for(var i=0; i<tickValues.length; i++){
		if(v>=tickValues[i]) c = bandColors[i];
	}
	return c;
}

var values = Object.assign({}, ameriques, europe, afrique, asie, oceanie);
var features = [], seriesData = [];
var minX = 1e9, minY = 1e9, maxX = -1e9, maxY = -1e9;

function addRegion(name, source, style){
	var rings = outlines[source].map(function(s){
		var r = s.split(' ').map(function(pt){
			var c = pt.split(',').map(Number);
			var p = robinson(c[0], c[1]);
			minX = Math.min(minX,p[0]); maxX = Math.max(maxX,p[0]);
			minY = Math.min(minY,p[1]); maxY = Math.max(maxY,p[1]);
			return c;
		});
		r.push(r[0]);
		return [r];
	});
	features.push({type:'Feature', properties:{name:name}, geometry:{type:'MultiPolygon', coordinates:rings}});
	seriesData.push({name:name, value:values[source]||0, itemStyle:style});
}

// halo rose sous tout le reste
halos.forEach(function(n){
	addRegion(n+' halo', n, {areaColor:'#fdeafb', borderWidth:0, shadowColor:'rgba(251,220,248,.95)', shadowBlur:14});
});
Object.keys(values).forEach(function(n){
	var t = tintNames.indexOf(n);
	var st = {areaColor:t>=0?tintColors[t]:bandColor(values[n])};
	if(n=='Australie centre') st.borderWidth = 0;
	addRegion(n, n, st);
});
overlays.forEach(function(n){
	addRegion(n, n, {areaColor:tintColors[tintNames.indexOf(n)], borderWidth:0});
});
echarts.registerMap('monde', {type:'FeatureCollection', features:features});

// graphismes de la legende
var BAR_X = 216, BAR_W = 122, BAR_Y = 589, BAR_H = 14;
var serif = '"Liberation Serif","Times New Roman",serif';
var stripColors = [null, null, null, '#c9a060', '#9c5b3a', '#6b2a10'];
var legend = [];
function addText(txt, x, y, size, align){
	legend.push({type:'text', x:x, y:y, silent:true, style:{text:txt, fill:'#111', font:size+'px '+serif, textAlign:align||'left', textVerticalAlign:'bottom'}});
}
addText('Pas de', 114, 556, 24);
addText('données', 110, 586, 24);
legend.push({type:'rect', shape:{x:582, y:585, width:370, height:23}, style:{fill:'#fdeefb'}, silent:true});
legend.push({type:'rect', shape:{x:121, y:589, width:67, height:14}, style:{fill:'#fff', stroke:'#aaa', lineWidth:1}, silent:true});
for(var h=0; h<9; h++){
	legend.push({type:'line', shape:{x1:121+h*8, y1:603, x2:Math.min(135+h*8,188), y2:Math.max(589,603-(188-121-h*8))}, style:{stroke:'#bbb', lineWidth:1}, silent:true});
}
bandColors.forEach(function(c, i){
	var x = BAR_X+i*BAR_W;
	if(i<5){
		legend.push({type:'rect', shape:{x:x, y:BAR_Y, width:BAR_W, height:BAR_H}, style:{fill:c, stroke:'#999', lineWidth:.7}, silent:true});
	}else{
		legend.push({type:'polygon', shape:{points:[[x,BAR_Y],[x+114,BAR_Y],[x+121,BAR_Y+BAR_H/2],[x+114,BAR_Y+BAR_H],[x,BAR_Y+BAR_H]]}, style:{fill:c, stroke:'#6b3a20', lineWidth:.7}, silent:true});
	}
	if(stripColors[i]){
		legend.push({type:'rect', shape:{x:x, y:BAR_Y, width:i<5?BAR_W:114, height:3}, style:{fill:stripColors[i]}, silent:true});
	}
	legend.push({type:'line', shape:{x1:x, y1:BAR_Y-4, x2:x, y2:BAR_Y}, style:{stroke:'#999', lineWidth:.7}, silent:true});
	addText(tickLabels[i], x+1, 586, 24, 'center');
});
addText('kWh/an', 868, 584, 19);

var myChart = echarts.init(document.getElementById('main'), null, {renderer:'canvas'});
myChart.setOption({
	animation:false,
	backgroundColor:'#fff',
	tooltip:{show:false},
	graphic:{elements:legend},
	series:[{
		type:'map',
		map:'monde',
		roam:false,
		silent:true,
		left:minX, top:minY, width:maxX-minX, height:maxY-minY,
		projection:{
			project:function(p){ return robinson(p[0], p[1]); },
			unproject:function(p){ return robinsonInv(p); }
		},
		label:{show:false},
		emphasis:{disabled:true},
		select:{disabled:true},
		itemStyle:{areaColor:'#fff', borderColor:'rgba(75,60,40,0.65)', borderWidth:.7},
		data:seriesData
	}]
});
</script>
</body>
</html>
